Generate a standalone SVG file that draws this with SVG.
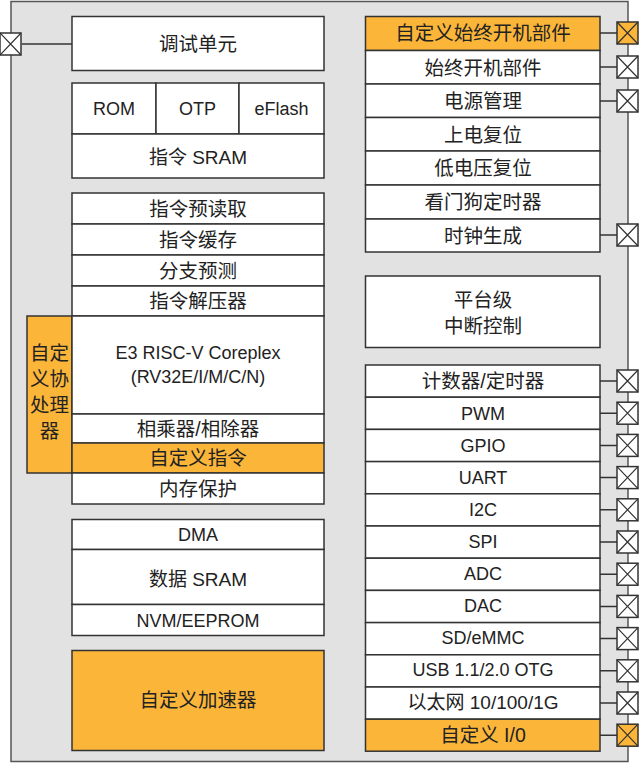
<svg xmlns="http://www.w3.org/2000/svg" width="642" height="765" viewBox="0 0 642 765">
<style>
.b{fill:#ffffff;stroke:#333333;stroke-width:1.5}
.o{fill:#fbb63a;stroke:#333333;stroke-width:1.5}
.ln{stroke:#333333;stroke-width:1.5;fill:none}
text{font-family:"Liberation Sans","Noto Sans CJK SC",sans-serif;font-size:18px;fill:#222222;text-anchor:middle;dominant-baseline:central}
.c{font-size:19.5px}
.m{font-size:19px}
</style>
<defs>
<g id="pad">
<rect x="0" y="-11" width="21" height="22" stroke="#333333" stroke-width="1.5"/>
<path d="M0,-11 L21,11 M21,-11 L0,11" stroke="#333333" stroke-width="1.2" fill="none"/>
</g>
</defs>
<rect id="chip" x="11" y="1.5" width="617" height="760" fill="#e2e2e2" stroke="#555555" stroke-width="1.5"/>

<g id="connectors">
<path class="ln" d="M22,44 H72"/>
<path class="ln" d="M600,33 H617 M600,67 H617 M600,101 H617 M600,235 H617"/>
<path class="ln" d="M600,381 H617 M600,413.2 H617 M600,445.4 H617 M600,477.6 H617 M600,509.8 H617 M600,542 H617 M600,574.2 H617 M600,606.4 H617 M600,638.6 H617 M600,670.8 H617 M600,703 H617 M600,735.2 H617"/>
</g>

<g id="pads">
<use href="#pad" x="0" y="44" fill="#ffffff"/>
<use href="#pad" x="617" y="33" fill="#fbb63a"/>
<use href="#pad" x="617" y="67" fill="#ffffff"/>
<use href="#pad" x="617" y="101" fill="#ffffff"/>
<use href="#pad" x="617" y="235" fill="#ffffff"/>
<use href="#pad" x="617" y="381" fill="#ffffff"/>
<use href="#pad" x="617" y="413.2" fill="#ffffff"/>
<use href="#pad" x="617" y="445.4" fill="#ffffff"/>
<use href="#pad" x="617" y="477.6" fill="#ffffff"/>
<use href="#pad" x="617" y="509.8" fill="#ffffff"/>
<use href="#pad" x="617" y="542" fill="#ffffff"/>
<use href="#pad" x="617" y="574.2" fill="#ffffff"/>
<use href="#pad" x="617" y="606.4" fill="#ffffff"/>
<use href="#pad" x="617" y="638.6" fill="#ffffff"/>
<use href="#pad" x="617" y="670.8" fill="#ffffff"/>
<use href="#pad" x="617" y="703" fill="#ffffff"/>
<use href="#pad" x="617" y="735.2" fill="#fbb63a"/>
</g>

<g id="debug"><rect class="b" x="72" y="16.5" width="252" height="54"/><text class="c" x="198" y="44">调试单元</text></g>

<g id="rom"><rect class="b" x="72" y="83" width="84" height="51"/><text x="114" y="109">ROM</text></g>
<g id="otp"><rect class="b" x="156" y="83" width="83" height="51"/><text x="197.5" y="109">OTP</text></g>
<g id="eflash"><rect class="b" x="239" y="83" width="85" height="51"/><text x="281.5" y="109">eFlash</text></g>
<g id="isram"><rect class="b" x="72" y="134" width="252" height="44"/><text class="m" x="198" y="157">指令 SRAM</text></g>

<g id="prefetch"><rect class="b" x="72" y="193" width="252" height="31"/><text class="c" x="198" y="209">指令预读取</text></g>
<g id="icache"><rect class="b" x="72" y="224" width="252" height="31"/><text class="c" x="198" y="240">指令缓存</text></g>
<g id="bpred"><rect class="b" x="72" y="255" width="252" height="31"/><text class="c" x="198" y="271">分支预测</text></g>
<g id="decomp"><rect class="b" x="72" y="286" width="252" height="30"/><text class="c" x="198" y="301">指令解压器</text></g>

<g id="coproc"><rect class="o" x="27" y="316" width="45" height="157"/>
<text class="c" x="49.5" y="353">自定</text><text class="c" x="49.5" y="379">义协</text><text class="c" x="49.5" y="405">处理</text><text class="c" x="49.5" y="431">器</text></g>

<g id="core"><rect class="b" x="72" y="316" width="252" height="98"/><text x="198" y="353">E3 RISC-V Coreplex</text><text x="198" y="377">(RV32E/I/M/C/N)</text></g>
<g id="muldiv"><rect class="b" x="72" y="414" width="252" height="29"/><text class="c" x="198" y="429">相乘器/相除器</text></g>
<g id="custinst"><rect class="o" x="72" y="443" width="252" height="30"/><text class="c" x="198" y="458">自定义指令</text></g>
<g id="memprot"><rect class="b" x="72" y="473" width="252" height="31"/><text class="c" x="198" y="489">内存保护</text></g>

<g id="dma"><rect class="b" x="72" y="519.5" width="252" height="30"/><text x="198" y="535">DMA</text></g>
<g id="dsram"><rect class="b" x="72" y="549.5" width="252" height="55"/><text class="m" x="198" y="579">数据 SRAM</text></g>
<g id="nvm"><rect class="b" x="72" y="604.5" width="252" height="31"/><text x="198" y="621">NVM/EEPROM</text></g>

<g id="accel"><rect class="o" x="72" y="650.5" width="252" height="100"/><text class="c" x="198" y="700">自定义加速器</text></g>

<g id="custaon"><rect class="o" x="365.5" y="16.5" width="234.5" height="34"/><text class="c" x="483" y="33">自定义始终开机部件</text></g>
<g id="aon"><rect class="b" x="365.5" y="50.5" width="234.5" height="33.5"/><text class="c" x="483" y="68">始终开机部件</text></g>
<g id="pmu"><rect class="b" x="365.5" y="84" width="234.5" height="33.5"/><text class="c" x="483" y="101">电源管理</text></g>
<g id="por"><rect class="b" x="365.5" y="117.5" width="234.5" height="33.5"/><text class="c" x="483" y="135">上电复位</text></g>
<g id="bor"><rect class="b" x="365.5" y="151" width="234.5" height="34"/><text class="c" x="483" y="168">低电压复位</text></g>
<g id="wdt"><rect class="b" x="365.5" y="185" width="234.5" height="34"/><text class="c" x="483" y="202">看门狗定时器</text></g>
<g id="clk"><rect class="b" x="365.5" y="219" width="234.5" height="33"/><text class="c" x="483" y="236">时钟生成</text></g>

<g id="plic"><rect class="b" x="365.5" y="276" width="234.5" height="71.5"/><text class="c" x="483" y="300">平台级</text><text class="c" x="483" y="326">中断控制</text></g>

<g id="timer"><rect class="b" x="365.5" y="365" width="234.5" height="32.2"/><text class="c" x="483" y="381">计数器/定时器</text></g>
<g id="pwm"><rect class="b" x="365.5" y="397.2" width="234.5" height="32.2"/><text x="483" y="414">PWM</text></g>
<g id="gpio"><rect class="b" x="365.5" y="429.4" width="234.5" height="32.2"/><text x="483" y="446">GPIO</text></g>
<g id="uart"><rect class="b" x="365.5" y="461.6" width="234.5" height="32.2"/><text x="483" y="478">UART</text></g>
<g id="i2c"><rect class="b" x="365.5" y="493.8" width="234.5" height="32.2"/><text x="483" y="510">I2C</text></g>
<g id="spi"><rect class="b" x="365.5" y="526" width="234.5" height="32.2"/><text x="483" y="542">SPI</text></g>
<g id="adc"><rect class="b" x="365.5" y="558.2" width="234.5" height="32.2"/><text x="483" y="574">ADC</text></g>
<g id="dac"><rect class="b" x="365.5" y="590.4" width="234.5" height="32.2"/><text x="483" y="606">DAC</text></g>
<g id="sd"><rect class="b" x="365.5" y="622.6" width="234.5" height="32.2"/><text x="483" y="638">SD/eMMC</text></g>
<g id="usb"><rect class="b" x="365.5" y="654.8" width="234.5" height="32.2"/><text x="483" y="670">USB 1.1/2.0 OTG</text></g>
<g id="eth"><rect class="b" x="365.5" y="687" width="234.5" height="32.2"/><text class="m" x="483" y="702">以太网 10/100/1G</text></g>
<g id="custio"><rect class="o" x="365.5" y="719.2" width="234.5" height="32"/><text class="c" x="483" y="735">自定义 I/0</text></g>
</svg>
